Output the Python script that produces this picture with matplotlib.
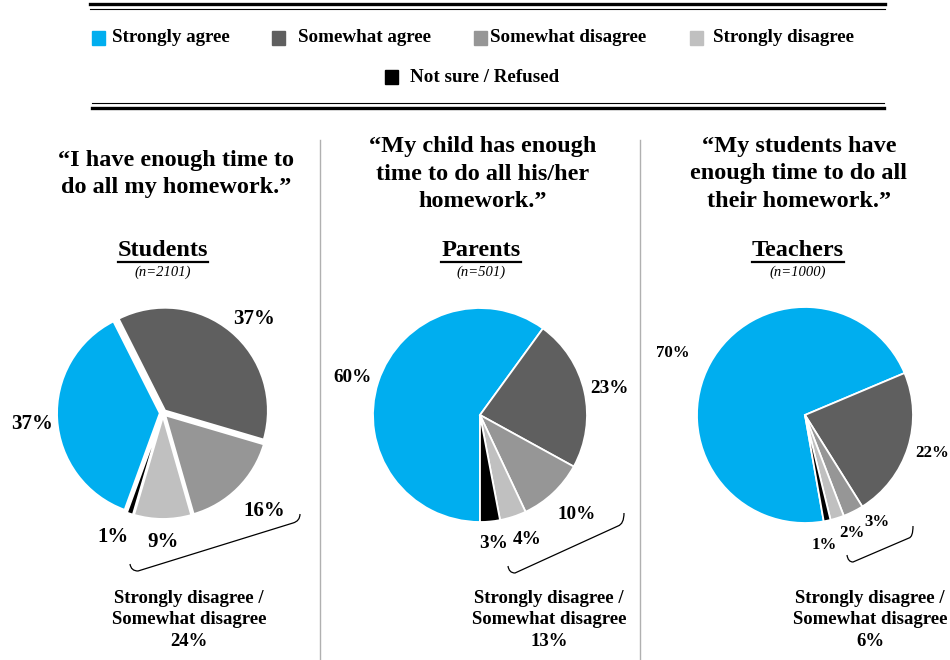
import matplotlib
matplotlib.use('Agg')
from matplotlib import pyplot as plt
from matplotlib.patches import Rectangle, PathPatch
from matplotlib.path import Path

# survey answers, same order in every group
categories = ['Strongly agree', 'Somewhat agree', 'Somewhat disagree',
              'Strongly disagree', 'Not sure / Refused']
colors = ['#00aeef', '#5f5f5f', '#969696', '#c0c0c0', '#000000']

groups = ['Students', 'Parents', 'Teachers']
sample_sizes = [2101, 501, 1000]
questions = ['\u201cI have enough time to\ndo all my homework.\u201d',
             '\u201cMy child has enough\ntime to do all his/her\nhomework.\u201d',
             '\u201cMy students have\nenough time to do all\ntheir homework.\u201d']
students = [37, 37, 16, 9, 1]
parents = [60, 23, 10, 4, 3]
teachers = [70, 22, 3, 2, 1]
disagree_total = [24, 13, 6]

W, H = 950, 660
SERIF = 'Liberation Serif'

# layout in pixels: pie centre, radius, start angle, explode, label size
pie_layout = [
    dict(cx=163, cy=413, r=103, start=250, explode=0.03, lw=1.5, fs=15),
    dict(cx=480, cy=415, r=107, start=270, explode=0.0, lw=1.3, fs=13.8),
    dict(cx=805, cy=415, r=108, start=280, explode=0.0, lw=1.3, fs=12.2),
]
# label positions in units of pie radius
label_pos = [
    [(-1.27, -0.11), (0.88, 0.91), (0.98, -0.95), (0.0, -1.25), (-0.49, -1.20)],
    [(-1.19, 0.35), (1.21, 0.25), (0.90, -0.93), (0.44, -1.16), (0.13, -1.20)],
    [(-1.22, 0.57), (1.18, -0.35), (0.67, -0.99), (0.43, -1.09), (0.18, -1.20)],
]
title_x = [176, 483, 799]
name_x = [163, 481, 798]
note_x = [189, 549, 870]
brackets = [
    [(130, 564), (131, 571), (138, 571), (293, 523), (300, 521), (300, 514)],
    [(508, 566), (509, 573), (515, 573), (618, 526), (624, 524), (624, 513)],
    [(847, 555), (848, 562), (853, 562), (909, 538), (913, 537), (913, 526)],
]

fig = plt.figure(figsize=(W / 100, H / 100), dpi=100)
bg = fig.add_axes([0, 0, 1, 1])
bg.set_xlim(0, W)
bg.set_ylim(H, 0)
bg.axis('off')

# double rules around the legend
bg.plot([90, 885], [4, 4], color='black', lw=2.4)
bg.plot([90, 885], [8.5, 8.5], color='black', lw=0.8)
bg.plot([92, 884], [103, 103], color='black', lw=0.8)
bg.plot([92, 884], [107.5, 107.5], color='black', lw=2.4)

# legend drawn by hand: 4 items then one centred below
legend_spots = [(92, 38, 112), (272, 38, 298), (474, 38, 490), (690, 38, 713), (385, 77, 410)]
for (sx, sy, tx), lab, col in zip(legend_spots, categories, colors):
    bg.add_patch(Rectangle((sx, sy - 7), 13, 14, color=col))
    bg.text(tx, sy, lab, family=SERIF, weight='bold', fontsize=13.7, va='center', ha='left')

# grey separators between the panels
for x in (320, 640):
    bg.plot([x, x], [140, 660], color='#b0b0b0', lw=1.0)

fig.canvas.draw()
renderer = fig.canvas.get_renderer()

all_values = [students, parents, teachers]
for i, vals in enumerate(all_values):
    lay = pie_layout[i]
    bg.text(title_x[i], 174, questions[i], family=SERIF, weight='bold', fontsize=17.5,
            ha='center', va='center', multialignment='center', linespacing=1.38)
    name = bg.text(name_x[i], 250, groups[i], family=SERIF, weight='bold', fontsize=17.5,
                   ha='center', va='center')
    bb = name.get_window_extent(renderer)
    bg.plot([bb.x0, bb.x1], [262, 262], color='black', lw=1.6)
    bg.text(name_x[i], 272, '(n={})'.format(sample_sizes[i]), family=SERIF, style='italic',
            fontsize=10.5, ha='center', va='center')
    bg.text(note_x[i], 620, 'Strongly disagree /\nSomewhat disagree\n{}%'.format(disagree_total[i]),
            family=SERIF, weight='bold', fontsize=13.5, ha='center', va='center',
            multialignment='center', linespacing=1.33)

    p = brackets[i]
    path = Path([p[0], p[1], p[2], p[3], p[4], p[5]],
                [Path.MOVETO, Path.CURVE3, Path.CURVE3, Path.LINETO, Path.CURVE3, Path.CURVE3])
    bg.add_patch(PathPatch(path, fill=False, color='black', lw=0.9))

    half = 1.5 * lay['r']
    ax = fig.add_axes([(lay['cx'] - half) / W, 1 - (lay['cy'] + half) / H,
                       2 * half / W, 2 * half / H])
    ax.pie(vals, colors=colors, startangle=lay['start'], counterclock=False,
           explode=[lay['explode']] * len(vals),
           wedgeprops=dict(edgecolor='white', linewidth=lay['lw']))
    ax.set_xlim(-1.5, 1.5)
    ax.set_ylim(-1.5, 1.5)
    ax.set_aspect('equal')
    ax.axis('off')
    for v, (lx, ly) in zip(vals, label_pos[i]):
        ax.text(lx, ly, '{}%'.format(v), family=SERIF, weight='bold', fontsize=lay['fs'],
                ha='center', va='center')

fig.savefig('out.png', dpi=100)
